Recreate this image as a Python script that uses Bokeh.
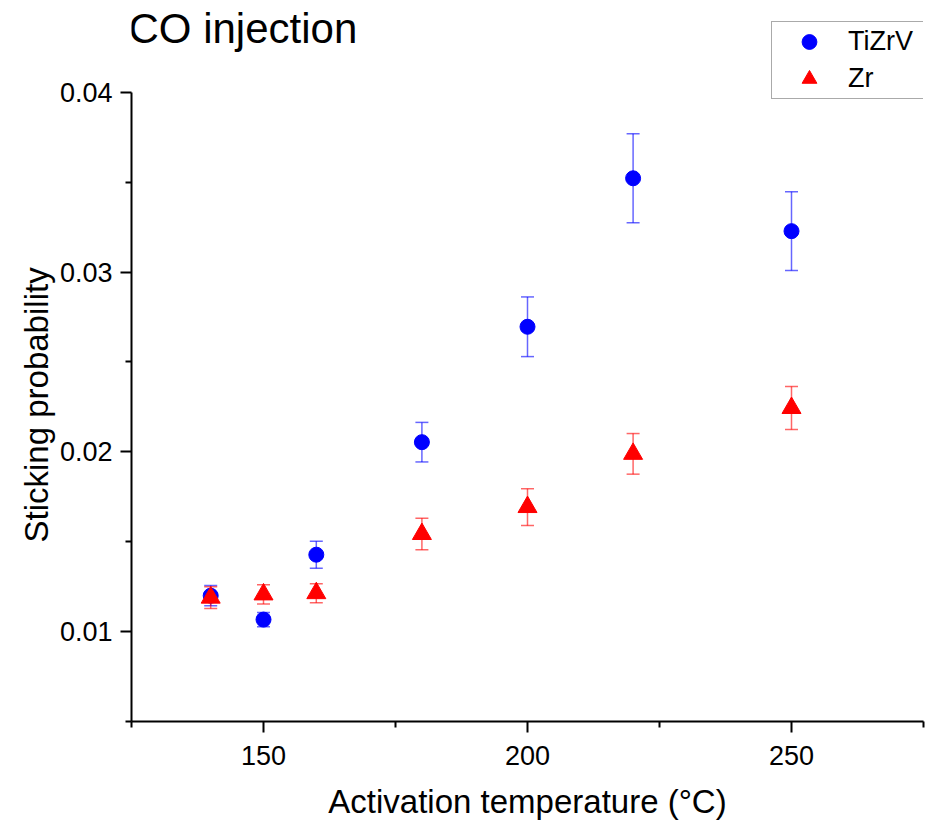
from bokeh.plotting import figure
from bokeh.models import (ColumnDataSource, FixedTicker, Legend, LegendItem, Range1d, Title, Label)
from bokeh.embed import file_html
from bokeh.resources import INLINE

# ---- data ----
temps = [140, 150, 160, 180, 200, 220, 250]
tizrv = [0.0120, 0.01067, 0.01428, 0.02054, 0.02696, 0.03522, 0.03228]
tizrv_err = [0.00056, 0.0004, 0.00075, 0.0011, 0.00166, 0.00248, 0.00219]
zr = [0.01189, 0.01207, 0.01214, 0.01543, 0.01693, 0.01989, 0.02244]
zr_err = [0.0006, 0.00054, 0.00053, 0.00088, 0.00102, 0.00113, 0.0012]

x_major = [150, 200, 250]
x_minor = [125, 175, 225, 275]
y_major = [0.01, 0.02, 0.03, 0.04]
y_minor = [0.005, 0.015, 0.025, 0.035]
x_lim = (125, 275)
y_lim = (0.005, 0.04)

FONT = "Liberation Sans"
BLUE = "#0000FF"
RED = "#FF0000"

W, H = 925, 822
BL, BR, BB = 131, 2, 100
frame_h = H - BB
axis_h = 630  # pixel height of the drawn y axis
y_top = y_lim[0] + (y_lim[1] - y_lim[0]) * frame_h / axis_h

p = figure(width=W, height=H, output_backend="svg", toolbar_location=None,
           x_range=Range1d(*x_lim), y_range=Range1d(y_lim[0], y_top),
           min_border_left=BL, min_border_right=BR, min_border_top=0, min_border_bottom=BB)
p.outline_line_color = None
p.grid.grid_line_color = None
p.background_fill_color = "white"
p.border_fill_color = "white"

def make_src(vals, errs):
    return ColumnDataSource(dict(
        x=temps, y=vals,
        lo=[v - e for v, e in zip(vals, errs)],
        hi=[v + e for v, e in zip(vals, errs)],
    ))

src_b = make_src(tizrv, tizrv_err)
src_r = make_src(zr, zr_err)

# error bars
for src, col in ((src_b, BLUE), (src_r, RED)):
    p.segment(x0="x", y0="lo", x1="x", y1="hi", source=src, line_color=col,
              line_alpha=0.6, line_width=1.5)
    p.scatter(x="x", y="lo", source=src, marker="dash", size=13, line_color=col,
              line_alpha=0.6, line_width=1.5, angle=0)
    p.scatter(x="x", y="hi", source=src, marker="dash", size=13, line_color=col,
              line_alpha=0.6, line_width=1.5, angle=0)

rb = p.scatter(x="x", y="y", source=src_b, marker="circle", size=15,
               fill_color=BLUE, line_color=BLUE)
rr = p.scatter(x="x", y="y", source=src_r, marker="triangle", size=19,
               fill_color=RED, line_color=RED)

# axes
for ax in (p.xaxis[0], p.yaxis[0]):
    ax.axis_line_width = 2
    ax.axis_line_color = "black"
    ax.major_tick_line_width = 2
    ax.minor_tick_line_width = 2
    ax.major_tick_line_color = "black"
    ax.minor_tick_line_color = "black"
    ax.major_tick_out = 11
    ax.major_tick_in = 0
    ax.minor_tick_out = 6
    ax.minor_tick_in = 0
    ax.major_label_text_font = FONT
    ax.major_label_text_font_size = "27px"
    ax.major_label_text_color = "black"
    ax.axis_label_text_font = FONT
    ax.axis_label_text_font_size = "33px"
    ax.axis_label_text_font_style = "normal"
    ax.axis_label_text_color = "black"

p.xaxis[0].ticker = FixedTicker(ticks=x_major, minor_ticks=x_minor)
p.yaxis[0].ticker = FixedTicker(ticks=y_major, minor_ticks=y_minor)
p.yaxis[0].bounds = y_lim
p.xaxis[0].axis_label = "Activation temperature (°C)"
p.xaxis[0].major_label_standoff = 13
p.yaxis[0].major_label_standoff = 8
p.xaxis[0].axis_label_standoff = 15

ylab = Title(text="Sticking probability", text_font=FONT, text_font_size="33px",
             text_font_style="normal", text_color="black", align="left",
             offset=179, standoff=4)
p.add_layout(ylab, "left")

title = Label(x=-3, y=frame_h - 29, x_units="screen", y_units="screen",
              text="CO injection", text_font=FONT, text_font_size="42px",
              text_color="black", text_baseline="alphabetic", text_align="left")
p.add_layout(title)

legend = Legend(items=[LegendItem(label="TiZrV", renderers=[rb]),
                       LegendItem(label="Zr", renderers=[rr])],
                location=(640, frame_h - 100), orientation="vertical",
                label_text_font=FONT, label_text_font_size="27px",
                label_text_color="black",
                glyph_width=72, glyph_height=37, label_height=37, label_width=75,
                label_standoff=3, spacing=0, padding=1, margin=0,
                border_line_color="#555555", border_line_width=1,
                background_fill_color="white", background_fill_alpha=1)
p.add_layout(legend, "center")

open("out.html", "w").write(file_html(p, INLINE))
